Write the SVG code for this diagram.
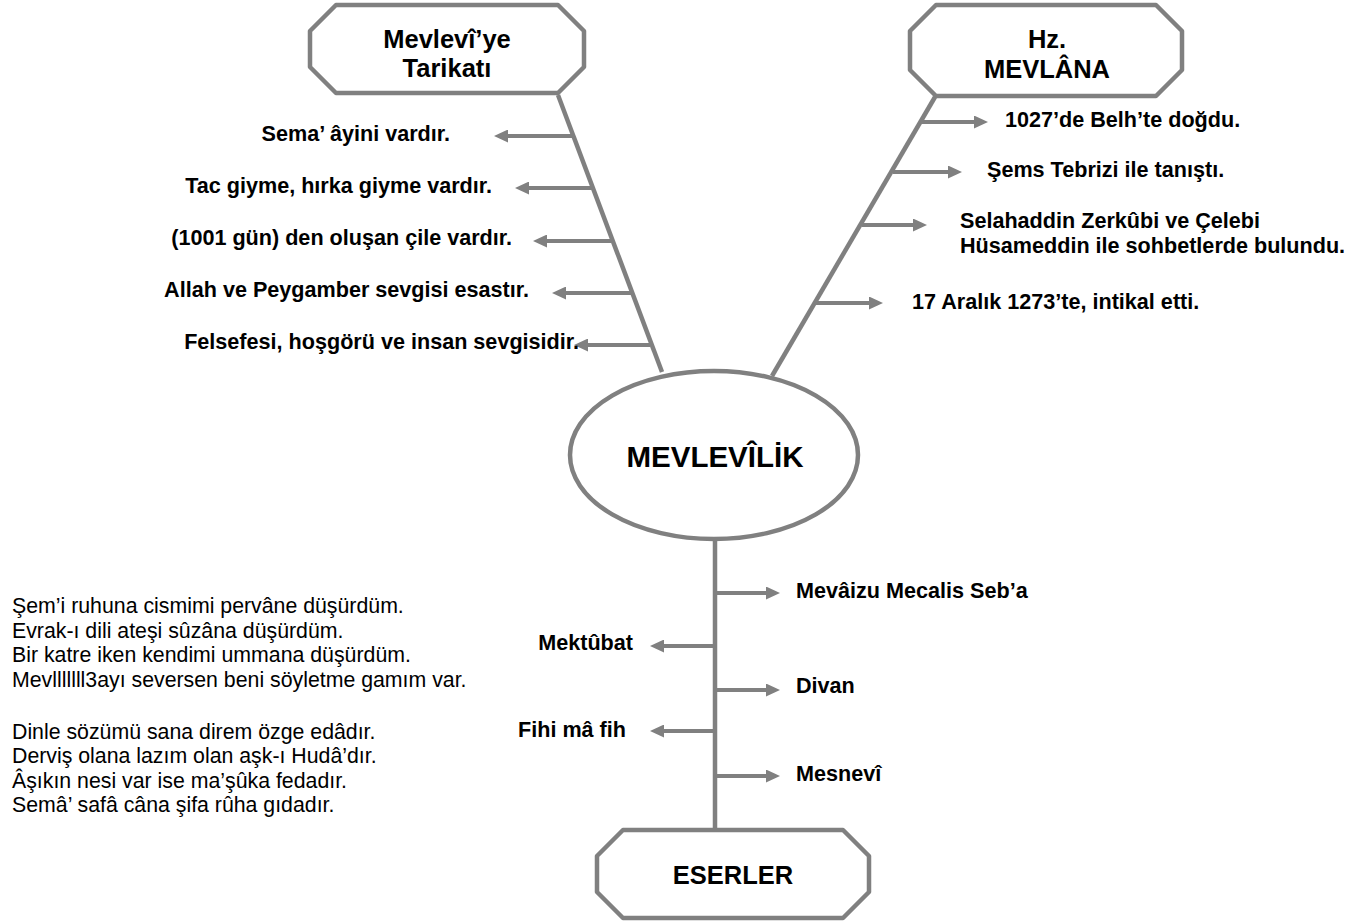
<svg xmlns="http://www.w3.org/2000/svg" width="1354" height="924" viewBox="0 0 1354 924">
<style>
.box{fill:#fff;stroke:#808080;stroke-width:4.5;stroke-linejoin:round}
.ln{stroke:#808080;stroke-width:4.5;fill:none}
.ar{stroke:#808080;stroke-width:4;fill:none;marker-end:url(#ah)}
.t{font-family:"Liberation Sans",Arial,sans-serif;font-weight:bold;fill:#000}
.lb{font-size:21.6px}
.ttl{font-size:25.5px;text-anchor:middle}
.p{font-family:"Liberation Sans",Arial,sans-serif;font-size:21.3px;fill:#000}
</style>
<defs>
<marker id="ah" markerUnits="userSpaceOnUse" viewBox="0 0 14 13" refX="4" refY="6.5" markerWidth="14" markerHeight="13" orient="auto">
<path d="M0,0 L14,6.5 L0,13 z" fill="#808080"/>
</marker>
</defs>
<rect width="1354" height="924" fill="#fff"/>
<g id="connectors">
<line class="ln" x1="558" y1="95" x2="662" y2="372"/>
<line class="ln" x1="935" y1="97" x2="772" y2="376"/>
<line class="ln" x1="715" y1="539" x2="715" y2="830"/>
<line class="ar" x1="573" y1="136" x2="504" y2="136"/>
<line class="ar" x1="592" y1="188" x2="525" y2="188"/>
<line class="ar" x1="611" y1="241" x2="543" y2="241"/>
<line class="ar" x1="631" y1="293" x2="562" y2="293"/>
<line class="ar" x1="650" y1="345" x2="584" y2="345"/>
<line class="ar" x1="921" y1="122" x2="978" y2="122"/>
<line class="ar" x1="893" y1="172" x2="952" y2="172"/>
<line class="ar" x1="862" y1="225" x2="917" y2="225"/>
<line class="ar" x1="815" y1="303" x2="873" y2="303"/>
<line class="ar" x1="715" y1="593" x2="770" y2="593"/>
<line class="ar" x1="715" y1="646" x2="660" y2="646"/>
<line class="ar" x1="715" y1="690" x2="770" y2="690"/>
<line class="ar" x1="715" y1="731" x2="660" y2="731"/>
<line class="ar" x1="715" y1="776" x2="770" y2="776"/>
</g>
<g id="tarikat">
<polygon class="box" points="336,5 558,5 584,31 584,67 558,93 336,93 310,67 310,31"/>
<text class="t ttl" x="447" y="48">Mevlevî’ye</text>
<text class="t ttl" x="447" y="77">Tarikatı</text>
</g>
<g id="mevlana">
<polygon class="box" points="936,5 1156,5 1182,31 1182,70 1156,96 936,96 910,70 910,31"/>
<text class="t ttl" x="1047" y="48">Hz.</text>
<text class="t ttl" x="1047" y="78">MEVLÂNA</text>
</g>
<g id="mevlevilik">
<ellipse class="box" cx="714" cy="455" rx="144" ry="84"/>
<text class="t" x="715" y="467" font-size="29.5" text-anchor="middle">MEVLEVÎLİK</text>
</g>
<g id="eserler">
<polygon class="box" points="623,830 843,830 869,856 869,892 843,918 623,918 597,892 597,856"/>
<text class="t ttl" x="733" y="884">ESERLER</text>
</g>
<g id="tarikat-items" text-anchor="end">
<text class="t lb" x="450" y="141">Sema’ âyini vardır.</text>
<text class="t lb" x="492" y="193">Tac giyme, hırka giyme vardır.</text>
<text class="t lb" x="512" y="245">(1001 gün) den oluşan çile vardır.</text>
<text class="t lb" x="529" y="297">Allah ve Peygamber sevgisi esastır.</text>
<text class="t lb" x="579" y="349">Felsefesi, hoşgörü ve insan sevgisidir.</text>
</g>
<g id="mevlana-items">
<text class="t lb" x="1005" y="127">1027’de Belh’te doğdu.</text>
<text class="t lb" x="987" y="177">Şems Tebrizi ile tanıştı.</text>
<text class="t lb" x="960" y="228">Selahaddin Zerkûbi ve Çelebi</text>
<text class="t lb" x="960" y="253">Hüsameddin ile sohbetlerde bulundu.</text>
<text class="t lb" x="912" y="309">17 Aralık 1273’te, intikal etti.</text>
</g>
<g id="eserler-items">
<text class="t lb" x="796" y="598">Mevâizu Mecalis Seb’a</text>
<text class="t lb" x="633" y="650" text-anchor="end">Mektûbat</text>
<text class="t lb" x="796" y="693">Divan</text>
<text class="t lb" x="626" y="737" text-anchor="end">Fihi mâ fih</text>
<text class="t lb" x="796" y="781">Mesnevî</text>
</g>
<g id="poem">
<text class="p" x="12" y="613">Şem’i ruhuna cismimi pervâne düşürdüm.</text>
<text class="p" x="12" y="637.5">Evrak-ı dili ateşi sûzâna düşürdüm.</text>
<text class="p" x="12" y="662">Bir katre iken kendimi ummana düşürdüm.</text>
<text class="p" x="12" y="686.5">Mevlllllll3ayı seversen beni söyletme gamım var.</text>
<text class="p" x="12" y="738.5">Dinle sözümü sana direm özge edâdır.</text>
<text class="p" x="12" y="763">Derviş olana lazım olan aşk-ı Hudâ’dır.</text>
<text class="p" x="12" y="787.5">Âşıkın nesi var ise ma’şûka fedadır.</text>
<text class="p" x="12" y="812">Semâ’ safâ câna şifa rûha gıdadır.</text>
</g>
</svg>
